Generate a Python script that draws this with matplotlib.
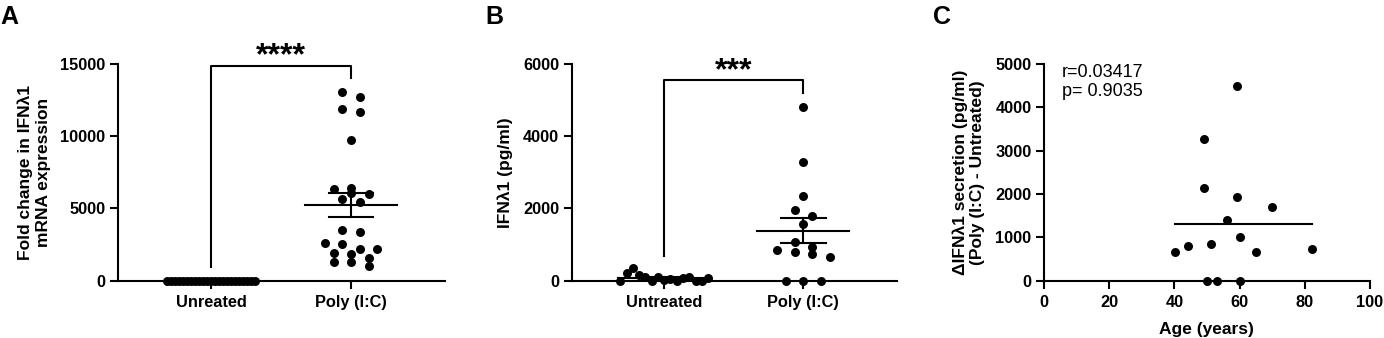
import numpy as np
import matplotlib
matplotlib.use('Agg')
import matplotlib.pyplot as plt

plt.rcParams['font.family'] = ['Liberation Sans', 'DejaVu Sans']
plt.rcParams['font.weight'] = 'bold'

# Panel A - fold change in IFNλ1 mRNA
a_groups = ['Unreated', 'Poly (I:C)']
a_untreated = [0] * 23
a_poly = [13085, 12738, 11885, 11677, 9738, 6438, 6346, 6046, 6000, 5654, 5446,
          3508, 3392, 2585, 2515, 2215, 2215, 1892, 1846, 1592, 1292, 1292, 1015]

# Panel B - IFNλ1 secretion (pg/ml)
b_groups = ['Untreated', 'Poly (I:C)']
b_untreated = [0, 203, 342, 157, 111, 0, 111, 18, 37, 0, 65, 92, 0, 0, 65]
b_poly = [4818, 3277, 2354, 1951, 1800, 1570, 1080, 941, 850, 803, 739, 665, 0, 0, 0]

# Panel C - delta secretion vs age
c_age = [59.2, 49.1, 49.1, 59.2, 70.0, 56.2, 60.1, 40.2, 44.1, 51.1, 65.0, 82.2, 50.1, 53.2, 60.1]
c_delta = [4500, 3277, 2146, 1938, 1692, 1408, 1015, 669, 808, 854, 669, 723, 0, 0, 0]

LW = 1.5
MS = 42
FS = 11.8


def swarm(vals, h, step, maxw):
    # group values into rows of height h, spread each row sideways
    vals = np.asarray(vals, float)
    order = np.argsort(vals, kind='stable')
    offs = np.zeros(len(vals))
    rows, cur = [], [order[0]]
    for i in order[1:]:
        if vals[i] - vals[cur[0]] < h:
            cur.append(i)
        else:
            rows.append(cur)
            cur = [i]
    rows.append(cur)
    for r in rows:
        r = sorted(r)
        n = len(r)
        sp = step if n < 2 else min(step, maxw / (n - 1))
        for k, i in enumerate(r):
            offs[i] = (k - (n - 1) / 2) * sp
    return offs


def style(ax):
    for s in ['top', 'right']:
        ax.spines[s].set_visible(False)
    for s in ['left', 'bottom']:
        ax.spines[s].set_linewidth(LW)
    ax.tick_params(width=LW, length=6, labelsize=FS, pad=3)
    ax.tick_params(axis='x', pad=4)
    for t in ax.get_xticklabels() + ax.get_yticklabels():
        t.set_fontweight('bold')


def mean_sem(ax, x, vals):
    v = np.asarray(vals, float)
    m = v.mean()
    se = v.std(ddof=1) / np.sqrt(len(v))
    ax.plot([x - 0.33, x + 0.33], [m, m], color='black', lw=LW, zorder=4)
    ax.plot([x - 0.16, x + 0.16], [m + se] * 2, color='black', lw=LW, zorder=4)
    ax.plot([x - 0.16, x + 0.16], [m - se] * 2, color='black', lw=LW, zorder=4)
    ax.plot([x, x], [m - se, m + se], color='black', lw=LW, zorder=4)


def dotplot(ax, groups, data, ymax, hs, ticks, bracket, stars):
    for i, vals in enumerate(data):
        off = swarm(vals, hs[i], 0.125, 0.63)
        ax.scatter(i + off, vals, s=MS, color='black', zorder=3, clip_on=False, linewidths=0)
        mean_sem(ax, i, vals)
    ax.set_xlim(-0.664, 1.672)
    ax.set_ylim(0, ymax)
    ax.set_xticks(range(len(groups)))
    ax.set_xticklabels(groups)
    ax.set_yticks(ticks)
    top, ly, ry, sy = bracket
    ax.plot([0, 0, 1, 1], [ly, top, top, ry], color='black', lw=LW, clip_on=False, zorder=2)
    ax.text(0.5, sy, stars, ha='center', va='center', fontsize=23, fontweight='bold', clip_on=False)
    style(ax)


fig = plt.figure(figsize=(13.84, 3.38), dpi=100)
axA = fig.add_axes([0.0853, 0.1695, 0.2363, 0.6412])
axB = fig.add_axes([0.4131, 0.1695, 0.2350, 0.6412])
axC = fig.add_axes([0.7543, 0.1695, 0.2355, 0.6412])

dotplot(axA, a_groups, [a_untreated, a_poly], 15000, [420, 420],
        [0, 5000, 10000, 15000], (14862, 969, 14008, 15550), '****')
axA.set_ylabel('Fold change in IFNλ1\nmRNA expression', fontsize=12.5, fontweight='bold', labelpad=7)

dotplot(axB, b_groups, [b_untreated, b_poly], 6000, [400, 220],
        [0, 2000, 4000, 6000], (5557, 683, 5206, 5800), '***')
axB.set_ylabel('IFNλ1 (pg/ml)', fontsize=12.5, fontweight='bold', labelpad=7)

# Panel C scatter
axC.scatter(c_age, c_delta, s=MS, color='black', zorder=3, clip_on=False, linewidths=0)
m = np.mean(c_delta)
axC.plot([min(c_age), max(c_age)], [m, m], color='black', lw=LW, zorder=4)
axC.set_xlim(0, 100)
axC.set_ylim(0, 5000)
axC.set_xticks([0, 20, 40, 60, 80, 100])
axC.set_yticks([0, 1000, 2000, 3000, 4000, 5000])
axC.set_xlabel('Age (years)', fontsize=12.5, fontweight='bold', labelpad=9)
axC.set_ylabel('ΔIFNλ1 secretion (pg/ml)\n(Poly (I:C) - Untreated)', fontsize=12.5,
               fontweight='bold', labelpad=7)
axC.text(0.055, 1.0, 'r=0.03417\np= 0.9035', transform=axC.transAxes, ha='left', va='top',
         fontsize=13, fontweight='normal', linespacing=1.15)
style(axC)

for lab, x in [('A', 0.0), ('B', 485 / 1384), ('C', 933 / 1384)]:
    fig.text(x, 0.985, lab, ha='left', va='top', fontsize=18, fontweight='bold')

fig.savefig('out.png', dpi=100)
